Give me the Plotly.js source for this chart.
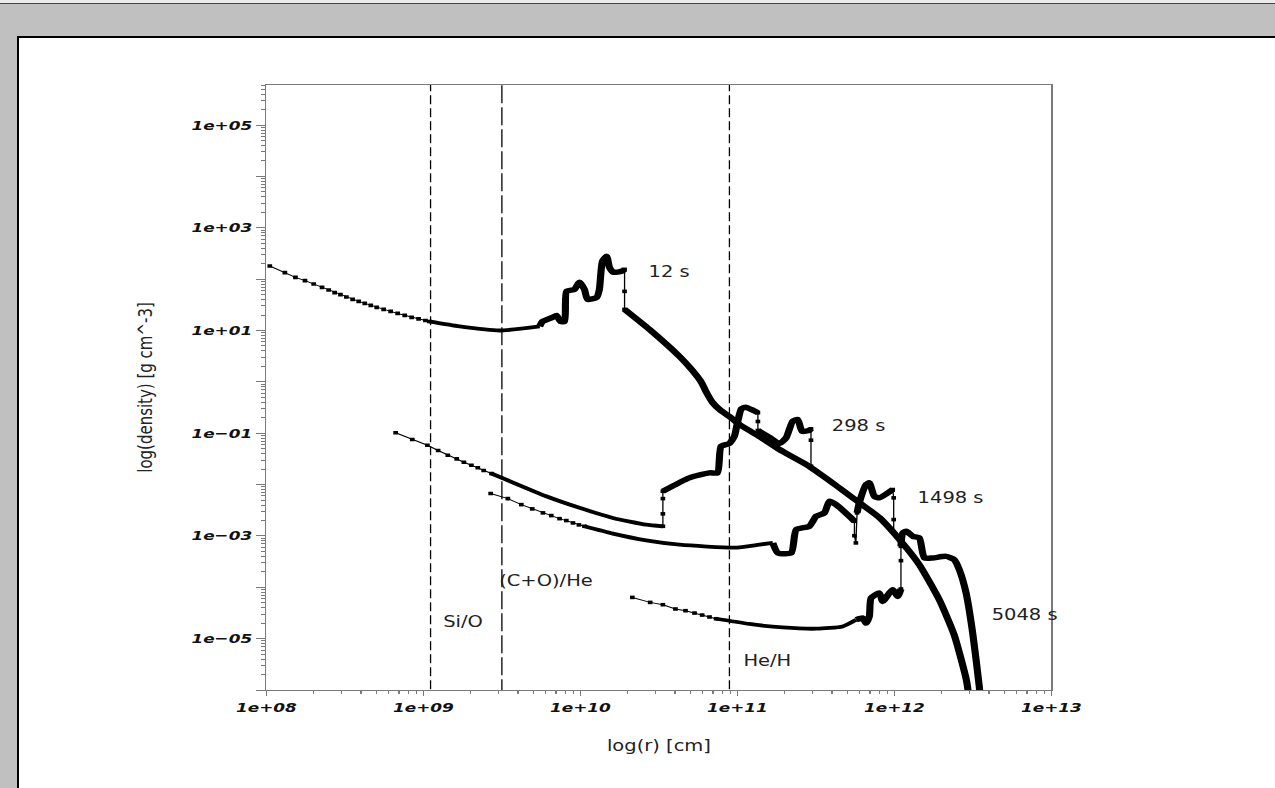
<!DOCTYPE html>
<html>
<head>
<meta charset="utf-8">
<script src="https://cdn.plot.ly/plotly-3.0.1.min.js"></script>
<style>
  html, body { margin:0; padding:0; }
  body { width:1275px; height:788px; overflow:hidden; background:#c0c0c0; position:relative; }
  #topstrip { position:absolute; left:0; top:0; width:1275px; height:3px; background:#ececec; }
  #topline { position:absolute; left:0; top:3px; width:1275px; height:1px; background:#444; }
  #panel { position:absolute; left:17px; top:36px; width:1258px; height:752px; background:#fff;
           border-left:2px solid #000; border-top:2px solid #000; box-sizing:border-box; }
  #chart { position:absolute; left:0; top:0; width:981px; height:788px;
           transform:scaleX(1.29969); transform-origin:0 0; }
</style>
</head>
<body>
<div id="topstrip"></div>
<div id="topline"></div>
<div id="panel"></div>
<div id="chart"></div>
<script>
// ---------------- data (radius in cm, density in g cm^-3) ----------------
const r12 = [1.05e8,1.31e8,1.53e8,1.76e8,2.00e8,2.26e8,2.49e8,2.72e8,2.96e8,3.23e8,
  3.54e8,3.87e8,4.23e8,4.62e8,5.04e8,5.58e8,6.18e8,6.85e8,7.60e8,8.41e8,9.31e8,1.03e9,1.09e9,
  1.70e9,3.05e9,5.50e9,5.74e9,6.64e9,7.04e9,7.46e9,7.92e9,8.16e9,9.17e9,9.86e9,1.06e10,1.11e10,1.27e10,1.32e10,
  1.38e10,1.47e10,1.53e10,1.62e10,1.83e10,1.91e10,1.91e10,1.91e10,2.75e10,4.27e10,5.09e10,5.90e10,6.35e10,6.94e10,
  7.68e10,8.89e10,1.03e11,1.38e11,1.85e11,2.75e11,4.02e11,5.97e11,8.02e11,1.12e12,1.44e12,1.93e12,2.40e12,2.87e12,3.0e12];
const rho12 = [180,134,108,93.5,80.2,69.2,61.4,54.6,49.9,44.8,
  40.4,36.9,33.7,30.8,28.2,25.8,23.6,21.5,19.7,18.0,16.8,15.7,15.0,
  12.0,10.0,12.0,15.0,18.0,19.7,15.0,15.0,57.8,63.2,86.7,63.2,40.4,44.2,63.2,
  222,278,170,136,142,155,57.8,25.8,10.5,3.13,1.75,0.973,0.621,0.396,
  0.290,0.211,0.148,0.0863,0.0481,0.0245,0.0109,4.46e-3,2.27e-3,7.40e-4,2.76e-4,5.73e-5,1.19e-5,1.58e-6,6.4e-7];

const r298 = [6.65e8,8.49e8,1.06e9,1.24e9,1.43e9,1.63e9,1.81e9,2.02e9,2.22e9,2.42e9,2.71e9,
  3.16e9,6.05e9,9.86e9,1.61e10,2.62e10,3.35e10,3.35e10,3.35e10,3.35e10,
  4.94e10,6.64e10,7.46e10,7.87e10,8.89e10,9.57e10,1.00e11,1.06e11,1.13e11,1.25e11,1.35e11,1.35e11,1.35e11,
  1.60e11,1.85e11,2.04e11,2.25e11,2.42e11,2.58e11,2.87e11,2.94e11,2.94e11,2.94e11];
const rho298 = [0.102,0.0754,0.0583,0.0460,0.0372,0.0317,0.0272,0.0238,0.0212,0.0188,0.0164,
  0.0135,5.91e-3,3.52e-3,2.24e-3,1.66e-3,1.54e-3,2.69e-3,5.33e-3,7.40e-3,
  0.0135,0.0169,0.0169,0.0558,0.0630,0.0875,0.160,0.299,0.321,0.281,0.250,0.169,0.113,
  0.0824,0.0630,0.0813,0.171,0.185,0.109,0.114,0.122,0.0731,0.0228];

const r1498 = [2.68e9,3.45e9,4.20e9,4.93e9,5.77e9,6.52e9,7.36e9,8.13e9,8.96e9,9.78e9,1.06e10,
  1.61e10,2.62e10,4.27e10,9.57e10,1.38e11,1.68e11,1.81e11,2.20e11,2.37e11,2.87e11,3.17e11,3.58e11,3.85e11,
  4.25e11,5.16e11,5.56e11,5.56e11,5.68e11,5.78e11,5.97e11,6.59e11,6.92e11,7.45e11,8.02e11,9.75e11,
  9.89e11,9.89e11,9.89e11];
const rho1498 = [6.68e-3,5.33e-3,4.07e-3,3.36e-3,2.81e-3,2.49e-3,2.17e-3,1.99e-3,1.79e-3,1.64e-3,1.54e-3,
  1.11e-3,8.21e-4,6.77e-4,5.91e-4,6.77e-4,7.31e-4,4.67e-4,4.67e-4,1.33e-3,1.54e-3,2.41e-3,2.81e-3,4.72e-3,
  4.07e-3,2.41e-3,1.93e-3,1.01e-3,7.31e-4,2.81e-3,4.40e-3,0.0100,0.0108,5.91e-3,5.51e-3,8.0e-3,
  5.51e-3,2.08e-3,1.16e-3];

const r5048 = [2.14e10,2.78e10,3.35e10,4.03e10,4.67e10,5.33e10,5.96e10,6.64e10,7.31e10,
  8.89e10,1.19e11,1.94e11,3.17e11,4.68e11,5.70e11,6.28e11,6.59e11,6.92e11,7.10e11,8.02e11,8.41e11,9.28e11,
  9.75e11,1.05e12,1.10e12,1.10e12,1.10e12,1.13e12,1.19e12,1.31e12,1.44e12,1.55e12,1.75e12,2.13e12,2.40e12,
  2.59e12,2.86e12,3.15e12,3.47e12,3.53e12];
const rho5048 = [6.35e-5,5.08e-5,4.58e-5,3.78e-5,3.50e-5,3.15e-5,2.88e-5,2.64e-5,2.44e-5,
  2.23e-5,1.93e-5,1.65e-5,1.56e-5,1.73e-5,2.33e-5,2.52e-5,2.01e-5,2.71e-5,6.18e-5,7.74e-5,5.31e-5,7.74e-5,
  8.97e-5,6.65e-5,9.27e-5,3.30e-4,6.27e-4,1.14e-3,1.23e-3,9.82e-4,9.14e-4,3.72e-4,3.72e-4,4.0e-4,3.45e-4,
  2.20e-4,7.74e-5,1.29e-5,1.17e-6,6.4e-7];

// composition boundaries
const boundR = [1.11e9, 3.16e9, 8.89e10];
const boundNames = ['Si/O', '(C+O)/He', 'He/H'];
const timeLabels = ['12 s', '298 s', '1498 s', '5048 s'];

const xTickVals = [1e8, 1e9, 1e10, 1e11, 1e12, 1e13];
const xTickText = ['1e+08', '1e+09', '1e+10', '1e+11', '1e+12', '1e+13'];
const yTickVals = [1e-6,1e-5,1e-4,1e-3,1e-2,1e-1,1e0,1e1,1e2,1e3,1e4,1e5];
const yTickText = ['', '1e\u221205', '', '1e\u221203', '', '1e\u221201', '', '1e+01', '', '1e+03', '', '1e+05'];

// ---------------- styling: which index ranges are drawn thin-with-markers / dense ----------------
const segStyles = {
  r12:  [[0,22,'thin'],[22,25,'med'],[25,43,'thick'],[43,45,'thin'],[45,66,'thick']],
  r298: [[0,10,'thin'],[10,16,'med'],[16,19,'thin'],[19,30,'thick'],[30,32,'thin'],[32,40,'thick'],[40,42,'thin']],
  r1498:[[0,10,'thin'],[10,16,'med'],[16,26,'thick'],[26,29,'thin'],[29,35,'thick'],[35,38,'thin']],
  r5048:[[0,8,'thin'],[8,14,'med'],[14,24,'thick'],[24,26,'thin'],[26,39,'thick']]
};
const widths = { thin: 1, med: 3.8, thick: 5.5 };
const boundDash = ['9px,4px', '18px,4px', '9px,4px'];

const traces = [];
function addCurve(r, rho, segs) {
  segs.forEach(([a, b, st]) => {
    const thin = st === 'thin';
    traces.push({
      x: r.slice(a, b + 1), y: rho.slice(a, b + 1),
      type: 'scatter',
      mode: thin ? 'lines+markers' : 'lines',
      line: { color: '#000', width: widths[st], shape: thin ? 'linear' : 'spline', smoothing: 0.55 },
      marker: { symbol: 'square', size: 3.6, color: '#000' },
      hoverinfo: 'skip', showlegend: false
    });
  });
}
addCurve(r12, rho12, segStyles.r12);
addCurve(r298, rho298, segStyles.r298);
addCurve(r1498, rho1498, segStyles.r1498);
addCurve(r5048, rho5048, segStyles.r5048);

boundR.forEach((v, i) => {
  traces.push({
    x: [v, v], y: [1e-7, 1e7], type: 'scatter', mode: 'lines',
    line: { color: '#000', width: 1, dash: boundDash[i] },
    hoverinfo: 'skip', showlegend: false
  });
});

const labelFont = { family: 'DejaVu Sans', size: 15, color: '#222' };
const labelPos = [
  [0.4840, 0.6910], [0.7170, 0.4357], [0.8262, 0.3174], [0.9198, 0.1247]
];
const boundPos = [[0.2218, 0.1131], [0.2925, 0.1808], [0.6035, 0.0476]];
const annotations = [];
timeLabels.forEach((t, i) => annotations.push({
  text: t, xref: 'paper', yref: 'paper', x: labelPos[i][0], y: labelPos[i][1],
  xanchor: 'left', yanchor: 'middle', showarrow: false, font: labelFont
}));
boundNames.forEach((t, i) => annotations.push({
  text: t, xref: 'paper', yref: 'paper', x: boundPos[i][0], y: boundPos[i][1],
  xanchor: 'left', yanchor: 'middle', showarrow: false, font: labelFont
}));

const tickFont = { family: 'DejaVu Sans', size: 13, weight: 'bold', style: 'italic', color: '#111' };
const axisCommon = {
  type: 'log', showgrid: false, zeroline: false, showline: true, mirror: true,
  linecolor: '#7a7a7a', linewidth: 1.3, ticks: 'outside', tickcolor: '#7a7a7a', tickwidth: 1,
  tickfont: tickFont, tickmode: 'array'
};

const layout = {
  width: 981, height: 788,
  margin: { l: 205.2, r: 171.6, t: 85, b: 97.5 },
  paper_bgcolor: 'rgba(0,0,0,0)', plot_bgcolor: '#fff',
  showlegend: false,
  xaxis: Object.assign({}, axisCommon, {
    range: [8, 13], tickvals: xTickVals, ticktext: xTickText, ticklen: 5,
    minor: { ticks: 'outside', ticklen: 3, dtick: 'D1', tickcolor: '#7a7a7a', showgrid: false },
    title: { text: 'log(r) [cm]', font: { family: 'DejaVu Sans', size: 15, color: '#222' }, standoff: 26 }
  }),
  yaxis: Object.assign({}, axisCommon, {
    range: [-6, 5.78], tickvals: yTickVals, ticktext: yTickText, ticklen: 7,
    minor: { ticks: 'outside', ticklen: 3, dtick: 'D1', tickcolor: '#7a7a7a', showgrid: false },
    title: { text: 'log(density) [g cm^-3]', font: { family: 'DejaVu Sans', size: 15, color: '#222' }, standoff: 26 }
  }),
  annotations: annotations
};

Plotly.newPlot('chart', traces, layout, { displayModeBar: false, staticPlot: true });
</script>
</body>
</html>
